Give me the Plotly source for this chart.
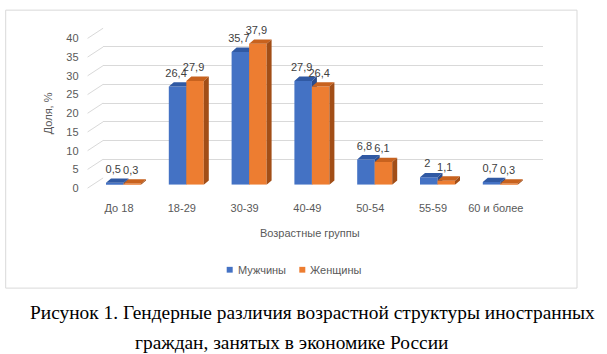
import plotly.graph_objects as go

# ---------------- data ----------------
categories = ["До 18", "18-29", "30-39", "40-49", "50-54", "55-59", "60 и более"]
men = [0.5, 26.4, 35.7, 27.9, 6.8, 2, 0.7]
women = [0.3, 27.9, 37.9, 26.4, 6.1, 1.1, 0.3]
series_names = ["Мужчины", "Женщины"]
y_ticks = [0, 5, 10, 15, 20, 25, 30, 35, 40]
x_title = "Возрастные группы"
y_title = "Доля, %"
caption_1 = "Рисунок 1. Гендерные различия возрастной структуры иностранных"
caption_2 = "граждан, занятых в экономике России"

# ---------------- styling / geometry ----------------
W, H = 607, 354
def fx(px): return px / W
def fy(py): return 1 - py / H

FONT = "Liberation Sans"
GREY = "#595959"
GRID = "#d9d9d9"
BLUE, BLUE_TOP, BLUE_SIDE = "#4472C4", "#3059A3", "#2B4C8C"
ORANGE, ORANGE_TOP, ORANGE_SIDE = "#ED7D31", "#C8621E", "#A24E17"

N = len(categories)
FX0, STEP = 87.6, 62.8
FX1 = FX0 + N * STEP
YMAX = 40
# front plane (tick labels)
FY0, FY40 = 188.5, 33.5
# bar front plane (range extended a little so the labels above tall bars fit)
BDX, BY0, PXU = 4.5, 185.0, 3.85
BYMAX = 46
BYTOP = BY0 - BYMAX * PXU
# back wall (gridlines)
KDX, KY0, KY40 = 15.5, 178.0, 23.0

BAR_W = 17.5 / STEP
DDX = 5.0 / STEP          # depth offset in category units
DDY = 4.5 / PXU           # depth offset in value units

fig = go.Figure()

# back wall gridlines subplot (xy)
fig.add_trace(go.Scatter(x=[], y=[], xaxis="x", yaxis="y", showlegend=False, hoverinfo="skip"))
# front axis subplot (x2y2)
fig.add_trace(go.Scatter(x=[], y=[], xaxis="x2", yaxis="y2", showlegend=False, hoverinfo="skip"))

def faces(vals, offset):
    tx, ty, sx, sy = [], [], [], []
    for i, v in enumerate(vals):
        x0 = i + offset
        x1 = x0 + BAR_W
        tx += [x0, x1, x1 + DDX, x0 + DDX, x0, None]
        ty += [v, v, v + DDY, v + DDY, v, None]
        sx += [x1, x1 + DDX, x1 + DDX, x1, x1, None]
        sy += [0, DDY, v + DDY, v, 0, None]
    return tx, ty, sx, sy

def add_series(vals, offset, front, top, side, xa, ya, name):
    fig.add_trace(go.Bar(x=list(range(N)), y=vals, width=BAR_W, offset=offset,
                         marker=dict(color=front, line=dict(width=0)), cliponaxis=False,
                         xaxis=xa, yaxis=ya, name=name, showlegend=False, hoverinfo="skip"))
    tx, ty, sx, sy = faces(vals, offset)
    fig.add_trace(go.Scatter(x=tx, y=ty, fill="toself", fillcolor=top, mode="none", cliponaxis=False,
                             xaxis=xa, yaxis=ya, showlegend=False, hoverinfo="skip"))
    fig.add_trace(go.Scatter(x=sx, y=sy, fill="toself", fillcolor=side, mode="none", cliponaxis=False,
                             xaxis=xa, yaxis=ya, showlegend=False, hoverinfo="skip"))

add_series(men, -BAR_W, BLUE, BLUE_TOP, BLUE_SIDE, "x3", "y3", series_names[0])
add_series(women, 0.0, ORANGE, ORANGE_TOP, ORANGE_SIDE, "x4", "y4", series_names[1])

def fmt(v):
    return f"{v:g}".replace(".", ",")

lx, ly, lt = [], [], []
for i in range(N):
    lx.append(i - BAR_W / 2 - 1.5 / STEP); ly.append(men[i] + 13 / PXU); lt.append(fmt(men[i]))
    lx.append(i + BAR_W / 2 - 1.5 / STEP); ly.append(women[i] + 13 / PXU); lt.append(fmt(women[i]))
fig.add_trace(go.Scatter(x=lx, y=ly, text=lt, mode="text", textposition="middle center", cliponaxis=False,
                         textfont=dict(family=FONT, size=11, color="#404040"),
                         xaxis="x4", yaxis="y4", showlegend=False, hoverinfo="skip"))

hidden = dict(showgrid=False, zeroline=False, showticklabels=False, showline=False, ticks="")
xr = [-0.5, N - 0.5]

layout = dict(
    width=W, height=H, margin=dict(l=0, r=0, t=0, b=0),
    paper_bgcolor="white", plot_bgcolor="rgba(0,0,0,0)", showlegend=False,
    font=dict(family=FONT, size=11, color=GREY),
    barmode="overlay",
    xaxis=dict(domain=[fx(FX0 + KDX), fx(FX1 + KDX)], range=xr, anchor="y", **hidden),
    yaxis=dict(domain=[fy(KY0), fy(KY40)], range=[0, YMAX], anchor="x",
               showgrid=True, gridcolor=GRID, gridwidth=1.3, tickvals=y_ticks,
               zeroline=False, showticklabels=False, ticks="", showline=False),
    xaxis2=dict(domain=[fx(FX0), fx(FX1)], range=xr, anchor="y2",
                tickvals=list(range(N)), ticktext=categories, ticks="",
                showgrid=False, zeroline=False, showline=False,
                tickfont=dict(family=FONT, size=11, color=GREY), ticklabelstandoff=12),
    yaxis2=dict(domain=[fy(FY0), fy(FY40)], range=[0, YMAX], anchor="x2",
                tickvals=y_ticks, ticks="", showgrid=False, zeroline=False, showline=False,
                tickfont=dict(family=FONT, size=11, color=GREY), ticklabelstandoff=8),
    xaxis3=dict(domain=[fx(FX0 + BDX), fx(FX1 + BDX)], range=xr, anchor="y3", **hidden),
    yaxis3=dict(domain=[fy(BY0), fy(BYTOP)], range=[0, BYMAX], anchor="x3", **hidden),
    xaxis4=dict(overlaying="x3", range=xr, anchor="y4", **hidden),
    yaxis4=dict(overlaying="y3", range=[0, BYMAX], anchor="x4", **hidden),
)
fig.update_layout(**layout)

shapes = []
# chart border
shapes.append(dict(type="rect", xref="paper", yref="paper", x0=fx(5.7), x1=fx(577), y0=fy(292), y1=fy(4.3),
                   line=dict(color=GRID, width=1), fillcolor="rgba(0,0,0,0)", layer="below"))
# side wall diagonals
for t in y_ticks:
    yf = FY0 - (FY0 - FY40) * t / YMAX
    yb = KY0 - (KY0 - KY40) * t / YMAX
    shapes.append(dict(type="line", xref="paper", yref="paper", x0=fx(FX0), y0=fy(yf),
                       x1=fx(FX0 + KDX), y1=fy(yb), line=dict(color=GRID, width=1), layer="below"))
# legend squares
shapes.append(dict(type="rect", xref="paper", yref="paper", x0=fx(226.7), x1=fx(232.7), y0=fy(276), y1=fy(270),
                   fillcolor=BLUE, line=dict(width=0)))
shapes.append(dict(type="rect", xref="paper", yref="paper", x0=fx(299.3), x1=fx(305.3), y0=fy(276), y1=fy(270),
                   fillcolor=ORANGE, line=dict(width=0)))
fig.update_layout(shapes=shapes)

ann = []
ann.append(dict(text=x_title, x=fx(310), y=fy(235), xref="paper", yref="paper", showarrow=False,
                xanchor="center", yanchor="middle", font=dict(family=FONT, size=11, color=GREY)))
ann.append(dict(text=y_title, x=fx(48), y=fy(111), xref="paper", yref="paper", showarrow=False, textangle=-90,
                xanchor="center", yanchor="middle", font=dict(family=FONT, size=11, color=GREY)))
ann.append(dict(text=series_names[0], x=fx(235.5), y=fy(273), xref="paper", yref="paper", showarrow=False,
                xanchor="left", yanchor="middle", font=dict(family=FONT, size=11, color=GREY)))
ann.append(dict(text=series_names[1], x=fx(308), y=fy(273), xref="paper", yref="paper", showarrow=False,
                xanchor="left", yanchor="middle", font=dict(family=FONT, size=11, color=GREY)))
ann.append(dict(text=caption_1, x=fx(28), y=fy(317), xref="paper", yref="paper", showarrow=False,
                xanchor="left", yanchor="middle", font=dict(family="Liberation Serif", size=19.4, color="black")))
ann.append(dict(text=caption_2, x=fx(133), y=fy(348), xref="paper", yref="paper", showarrow=False,
                xanchor="left", yanchor="middle", font=dict(family="Liberation Serif", size=19.4, color="black")))
fig.update_layout(annotations=ann)

fig.write_html("out.html")
